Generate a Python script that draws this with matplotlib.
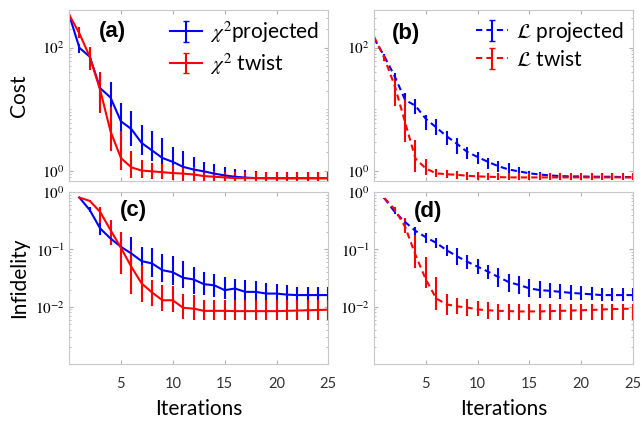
import numpy as np
import matplotlib
matplotlib.use("Agg")
from matplotlib import pyplot as plt
from matplotlib.ticker import FixedLocator, FuncFormatter, LogLocator, NullFormatter

plt.rcParams["font.family"] = ["Lato", "DejaVu Sans"]
plt.rcParams["mathtext.fontset"] = "stix"

# iterations
it_cost = np.arange(0, 26)
it_inf = np.arange(1, 26)

# (a) chi^2 cost
cost_proj = [343, 99, 71, 22, 15.5, 6.4, 4.8, 2.85, 2.16, 1.63, 1.41, 1.17, 1.06,
             0.99, 0.91, 0.85, 0.81, 0.785, 0.77, 0.765, 0.765, 0.765, 0.765, 0.765, 0.765, 0.765]
cost_proj_hi = [360, 113, 80, 35, 27.5, 12.6, 9.5, 5.5, 4.5, 3.43, 2.42, 2.09, 1.68,
                1.39, 1.32, 1.15, 1.08, 1.03, 0.99, 0.98, 0.97, 0.97, 0.97, 0.97, 0.97, 0.97]
cost_proj_lo = [330, 81, 62, 13, 8.1, 3.43, 2.5, 1.85, 1.44, 1.19, 1.06, 0.93, 0.88,
                0.85, 0.82, 0.79, 0.78, 0.76, 0.75, 0.74, 0.74, 0.74, 0.74, 0.74, 0.74, 0.74]
cost_twist = [343, 169, 71, 20.6, 4.4, 1.63, 1.15, 1.02, 0.99, 0.96, 0.93, 0.91, 0.88,
              0.83, 0.81, 0.79, 0.77, 0.77, 0.77, 0.77, 0.77, 0.77, 0.77, 0.77, 0.77, 0.77]
cost_twist_hi = [360, 216, 103, 40.8, 11.1, 4.5, 2.14, 1.53, 1.36, 1.29, 1.25, 1.2, 1.15,
                 1.05, 1.0, 0.98, 0.97, 0.97, 0.97, 0.97, 0.97, 0.97, 0.97, 0.97, 0.97, 0.97]
cost_twist_lo = [330, 141, 43, 8.7, 2.14, 1.06, 0.78, 0.76, 0.75, 0.74, 0.73, 0.7, 0.68,
                 0.66, 0.65, 0.64, 0.64, 0.64, 0.64, 0.64, 0.64, 0.64, 0.64, 0.64, 0.64, 0.64]

# (b) L cost
loss_proj = [141, 72, 34, 14.2, 11.4, 7.0, 5.1, 3.67, 2.77, 2.04, 1.69, 1.41, 1.2,
             1.06, 0.99, 0.92, 0.88, 0.85, 0.83, 0.82, 0.82, 0.81, 0.81, 0.81, 0.8, 0.8]
loss_proj_hi = [150, 80, 39, 18.2, 14.6, 8.1, 7.0, 4.5, 3.4, 2.45, 2.04, 1.63, 1.44,
                1.33, 1.17, 1.0, 0.95, 0.93, 0.91, 0.9, 0.9, 0.89, 0.89, 0.89, 0.88, 0.88]
loss_proj_lo = [133, 65, 22.4, 11.4, 8.4, 4.7, 3.8, 2.6, 1.92, 1.56, 1.28, 1.1, 0.97,
                0.94, 0.86, 0.83, 0.8, 0.79, 0.77, 0.76, 0.76, 0.75, 0.75, 0.75, 0.75, 0.75]
loss_twist = [150, 67.6, 23.8, 6.15, 1.6, 1.1, 0.92, 0.89, 0.87, 0.84, 0.82, 0.81, 0.8,
              0.79, 0.79, 0.79, 0.79, 0.79, 0.79, 0.79, 0.79, 0.79, 0.79, 0.79, 0.79, 0.79]
loss_twist_hi = [160, 75, 32.5, 15, 3.13, 1.56, 1.1, 1.05, 1.0, 0.97, 0.95, 0.94, 0.93,
                 0.93, 0.93, 0.93, 0.93, 0.93, 0.93, 0.93, 0.93, 0.93, 0.93, 0.93, 0.93, 0.93]
loss_twist_lo = [140, 60, 11.4, 3.0, 0.975, 0.86, 0.79, 0.76, 0.75, 0.73, 0.72, 0.72, 0.71,
                 0.71, 0.71, 0.71, 0.71, 0.71, 0.71, 0.71, 0.71, 0.71, 0.71, 0.71, 0.71, 0.71]

# (c) infidelity, chi^2
inf_proj = [0.8, 0.485, 0.232, 0.155, 0.111, 0.085, 0.0625, 0.057, 0.0435, 0.04, 0.032, 0.030,
            0.0248, 0.0237, 0.0195, 0.0208, 0.0182, 0.0182, 0.017, 0.017, 0.0163, 0.016, 0.016, 0.016, 0.016]
inf_proj_hi = [0.82, 0.54, 0.32, 0.19, 0.203, 0.166, 0.111, 0.107, 0.082, 0.077, 0.0625, 0.0497,
               0.0406, 0.038, 0.033, 0.031, 0.029, 0.028, 0.0255, 0.025, 0.024, 0.0222, 0.0222, 0.0222, 0.0222]
inf_proj_lo = [0.78, 0.44, 0.178, 0.118, 0.065, 0.05, 0.0366, 0.033, 0.027, 0.024, 0.021, 0.017,
               0.016, 0.015, 0.0134, 0.013, 0.0128, 0.0125, 0.0122, 0.012, 0.0118, 0.0114, 0.0114, 0.0114, 0.0114]
inf_twist = [0.8, 0.70, 0.45, 0.217, 0.107, 0.05, 0.0255, 0.0178, 0.013, 0.013, 0.0096, 0.0093,
             0.0085, 0.0085, 0.0085, 0.0084, 0.0084, 0.0084, 0.0084, 0.0084, 0.0085, 0.0086, 0.0087, 0.0088, 0.0089]
inf_twist_hi = [0.82, 0.74, 0.55, 0.325, 0.203, 0.097, 0.053, 0.029, 0.0238, 0.023, 0.017, 0.0159,
                0.013, 0.013, 0.013, 0.013, 0.013, 0.013, 0.013, 0.013, 0.013, 0.013, 0.013, 0.013, 0.013]
inf_twist_lo = [0.78, 0.66, 0.284, 0.119, 0.038, 0.017, 0.0122, 0.0103, 0.0084, 0.008, 0.0062, 0.006,
                0.0058, 0.0058, 0.0058, 0.0058, 0.0058, 0.0058, 0.0058, 0.0058, 0.0058, 0.0058, 0.0058, 0.0058, 0.0058]

# (d) infidelity, L
inf_l_proj = [0.78, 0.45, 0.30, 0.21, 0.163, 0.13, 0.097, 0.076, 0.061, 0.05, 0.041, 0.033, 0.027,
              0.024, 0.021, 0.0195, 0.019, 0.0182, 0.0175, 0.017, 0.0165, 0.016, 0.016, 0.016, 0.016]
inf_l_proj_hi = [0.8, 0.5, 0.34, 0.248, 0.19, 0.155, 0.12, 0.104, 0.08, 0.068, 0.053, 0.0465, 0.038,
                 0.035, 0.031, 0.028, 0.026, 0.025, 0.024, 0.023, 0.022, 0.021, 0.021, 0.021, 0.021]
inf_l_proj_lo = [0.76, 0.41, 0.27, 0.178, 0.13, 0.105, 0.078, 0.053, 0.045, 0.037, 0.031, 0.0223, 0.0183,
                 0.017, 0.015, 0.0145, 0.014, 0.0135, 0.013, 0.013, 0.013, 0.0125, 0.0125, 0.0125, 0.0125]
inf_l_twist = [0.78, 0.50, 0.248, 0.08, 0.03, 0.014, 0.011, 0.0102, 0.0097, 0.009, 0.0087, 0.0085, 0.0084,
               0.0083, 0.0083, 0.0083, 0.0084, 0.0085, 0.0086, 0.0087, 0.0088, 0.009, 0.0091, 0.0092, 0.0093]
inf_l_twist_hi = [0.8, 0.55, 0.35, 0.178, 0.074, 0.0333, 0.017, 0.014, 0.0135, 0.0125, 0.012, 0.0114, 0.0114,
                  0.0114, 0.0114, 0.0114, 0.0114, 0.0114, 0.0114, 0.0114, 0.0114, 0.0114, 0.0114, 0.0114, 0.0114]
inf_l_twist_lo = [0.76, 0.45, 0.19, 0.0466, 0.021, 0.0087, 0.0071, 0.0076, 0.007, 0.0068, 0.0062, 0.006, 0.0058,
                  0.0058, 0.0058, 0.0058, 0.0058, 0.0058, 0.0058, 0.0058, 0.0058, 0.0058, 0.0058, 0.0058, 0.0058]


def draw(ax, x, y, lo, hi, color, ls, label=None):
    y = np.array(y)
    err = [y - np.array(lo), np.array(hi) - y]
    ax.errorbar(x, y, yerr=err, color=color, ls=ls, lw=1.5, elinewidth=1.5, capsize=0)
    if label:
        # legend proxy with caps, like the original legend
        ax.errorbar([np.nan], [np.nan], yerr=[np.nan], color=color, ls=ls, lw=1.5,
                    elinewidth=1.5, capsize=2.5, label=label)


def style(ax, ylim, yticks, xlabels):
    ax.set_xlim(0, 25)
    ax.set_yscale("log")
    ax.set_ylim(*ylim)
    ax.set_xticks([5, 10, 15, 20, 25])
    ax.yaxis.set_major_locator(FixedLocator(yticks))
    ax.yaxis.set_minor_locator(LogLocator(base=10, subs=np.arange(1, 10), numticks=20))
    ax.yaxis.set_minor_formatter(NullFormatter())
    ax.yaxis.set_major_formatter(FuncFormatter(lambda v, p: r"$10^{%d}$" % round(np.log10(v))))
    ax.tick_params(which="both", direction="in", top=True, right=True, color="#b0b0b0")
    ax.tick_params(which="major", length=3)
    ax.tick_params(which="minor", length=1.5)
    ax.tick_params(axis="x", labelsize=10.5, pad=9, labelbottom=xlabels, labelcolor="#333333")
    ax.tick_params(axis="y", labelsize=11, pad=3)
    for s in ax.spines.values():
        s.set_color("#c8c8c8")


fig = plt.figure(figsize=(6.42, 4.22), dpi=100)
ax_a = fig.add_axes([0.1075, 0.571, 0.404, 0.405])
ax_b = fig.add_axes([0.5826, 0.571, 0.4034, 0.405])
ax_c = fig.add_axes([0.1075, 0.137, 0.404, 0.408])
ax_d = fig.add_axes([0.5826, 0.137, 0.4034, 0.408])

dash = (0, (3, 2))
draw(ax_a, it_cost, cost_proj, cost_proj_lo, cost_proj_hi, "#0000ff", "-", r"$\chi^2$projected")
draw(ax_a, it_cost, cost_twist, cost_twist_lo, cost_twist_hi, "#ff0000", "-", r"$\chi^2$ twist")
draw(ax_b, it_cost, loss_proj, loss_proj_lo, loss_proj_hi, "#0000ff", dash, r"$\mathcal{L}$ projected")
draw(ax_b, it_cost, loss_twist, loss_twist_lo, loss_twist_hi, "#ff0000", dash, r"$\mathcal{L}$ twist")
draw(ax_c, it_inf, inf_proj, inf_proj_lo, inf_proj_hi, "#0000ff", "-")
draw(ax_c, it_inf, inf_twist, inf_twist_lo, inf_twist_hi, "#ff0000", "-")
draw(ax_d, it_inf, inf_l_proj, inf_l_proj_lo, inf_l_proj_hi, "#0000ff", dash)
draw(ax_d, it_inf, inf_l_twist, inf_l_twist_lo, inf_l_twist_hi, "#ff0000", dash)

style(ax_a, (0.69, 403), [1, 100], False)
style(ax_b, (0.69, 403), [1, 100], False)
style(ax_c, (1e-3, 1.0), [1e-2, 1e-1, 1], True)
style(ax_d, (1e-3, 1.0), [1e-2, 1e-1, 1], True)

for ax in (ax_a, ax_b):
    ax.legend(loc="upper right", frameon=False, fontsize=15, handlelength=1.5,
              handletextpad=0.4, labelspacing=0.3, borderaxespad=0.05)

ax_a.set_ylabel("Cost", fontsize=15)
ax_c.set_ylabel("Infidelity", fontsize=15)
for ax in (ax_a, ax_c):
    ax.yaxis.set_label_coords(-0.155, 0.5)
for ax in (ax_c, ax_d):
    ax.set_xlabel("Iterations", fontsize=15)
    ax.xaxis.set_label_coords(0.5, -0.2)

panel = dict(fontsize=16, fontweight="bold", family="Liberation Sans", ha="center", va="center")
ax_a.text(0.166, 0.876, "(a)", transform=ax_a.transAxes, **panel)
ax_b.text(0.124, 0.865, "(b)", transform=ax_b.transAxes, **panel)
ax_c.text(0.25, 0.89, "(c)", transform=ax_c.transAxes, **panel)
ax_d.text(0.208, 0.884, "(d)", transform=ax_d.transAxes, **panel)

fig.savefig("out.png", dpi=100)
